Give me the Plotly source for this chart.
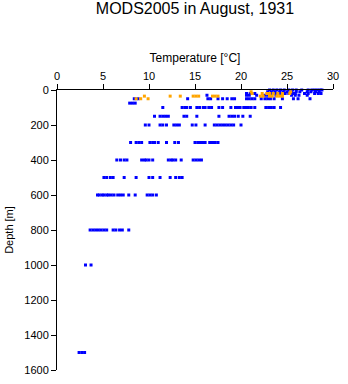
import plotly.graph_objects as go

# Temperature readings (°C) at each standard depth (m)
depths = [0, 10, 20, 30, 50, 75, 100, 150, 200, 300, 400, 500, 600, 800, 1000, 1500]
temps_good = [
    [23.1, 23.5, 23.9, 24.3, 24.7, 25.2, 25.6, 26.0, 26.6, 27.3, 27.7, 28.0, 28.3, 28.6, 28.8],
    [22.9, 23.3, 23.7, 24.2, 24.6, 25.0, 25.5, 26.0, 26.4, 27.2, 27.6, 28.1, 28.5],
    [20.6, 21.0, 21.5, 23.1, 23.4, 23.8, 24.3, 24.8, 25.2, 25.6, 25.9, 26.9, 27.3, 28.0, 28.4, 28.7],
    [16.3, 20.6, 20.9, 21.7, 22.6, 22.9, 23.8, 25.5, 25.9, 26.3, 27.2],
    [8.4, 8.8, 14.2, 16.4, 16.7, 17.5, 18.0, 18.5, 19.0, 19.3, 20.6, 20.9, 21.2, 21.5,
     22.2, 22.6, 22.9, 23.2, 23.6, 24.5, 25.7, 26.2, 27.5],
    [7.9, 8.2, 8.5],
    [11.5, 13.6, 13.9, 14.1, 14.5, 15.2, 15.5, 15.9, 16.1, 16.5, 16.8, 17.6, 18.0, 18.9,
     19.4, 19.7, 19.9, 20.3, 20.6, 20.8, 21.1, 21.5, 22.7, 23.0, 23.3, 23.6, 24.3],
    [10.6, 11.2, 11.5, 11.8, 12.1, 13.8, 14.1, 15.2, 17.6, 18.7, 19.0, 19.3, 19.7, 20.2, 21.0],
    [9.6, 10.0, 11.2, 11.5, 11.9, 12.7, 13.0, 13.3, 14.7, 15.1, 16.1, 17.1, 17.4, 17.7,
     18.0, 18.3, 18.6, 18.9, 19.2, 20.0],
    [8.0, 8.6, 8.9, 9.2, 10.1, 10.4, 10.6, 11.0, 11.9, 12.8, 13.2, 15.0, 15.3, 15.6, 15.9,
     16.1, 16.6, 16.9, 17.2, 17.5],
    [6.5, 6.9, 7.3, 7.6, 9.2, 9.5, 9.7, 10.0, 10.4, 12.1, 12.4, 12.6, 12.9, 13.5, 14.8,
     15.1, 15.4, 15.7],
    [5.1, 5.4, 5.8, 6.1, 7.3, 8.6, 10.0, 10.4, 11.2, 12.3, 12.9, 13.3, 13.6],
    [4.4, 4.6, 4.9, 5.1, 5.4, 5.6, 5.9, 6.2, 6.6, 6.9, 7.2, 7.8, 8.5, 9.8, 10.1, 10.4, 10.8],
    [3.6, 3.9, 4.2, 4.5, 4.8, 5.1, 5.4, 6.1, 6.4, 6.8, 7.1, 7.8],
    [3.1, 3.7],
    [2.4, 2.7, 3.0],
]

# Flagged readings (drawn in orange)
flag_depths = [10, 20, 35, 50]
temps_flag = [
    [21.1, 25.4],
    [21.2, 22.3, 22.8, 23.1, 23.5, 24.0, 24.5, 25.3],
    [9.5, 12.3, 13.4, 14.8, 15.1, 15.4, 16.9, 17.2, 17.5, 22.1, 22.4, 23.1, 23.4, 23.9, 24.2, 24.5],
    [8.6, 9.1, 9.9],
]

x_ticks = [0, 5, 10, 15, 20, 25, 30]
y_ticks = [0, 200, 400, 600, 800, 1000, 1200, 1400, 1600]


def flatten(levels, values):
    xs, ys = [], []
    for d, row in zip(levels, values):
        xs.extend(row)
        ys.extend([d] * len(row))
    return xs, ys


gx, gy = flatten(depths, temps_good)
fx, fy = flatten(flag_depths, temps_flag)

fig = go.Figure()
fig.add_trace(go.Scatter(x=gx, y=gy, mode="markers", cliponaxis=False,
                         marker=dict(symbol="square", size=3, color="#0000ff", line=dict(width=0))))
fig.add_trace(go.Scatter(x=fx, y=fy, mode="markers", cliponaxis=False,
                         marker=dict(symbol="square", size=3, color="#ffa500", line=dict(width=0))))

font = "Liberation Sans, Arial, Helvetica, sans-serif"
fig.update_layout(
    width=348, height=384,
    margin=dict(l=54, r=8.5, t=90, b=9),
    paper_bgcolor="white", plot_bgcolor="white",
    showlegend=False,
    font=dict(family=font, size=11, color="black"),
    title=dict(text="MODS2005 in August, 1931", x=0.5, xref="paper",
               y=1 - 2.5 / 384, yref="container", yanchor="top",
               font=dict(family=font, size=16, color="black")),
    xaxis=dict(side="top", range=[0, 30], tickvals=x_ticks, ticks="outside", ticklen=5,
               tickwidth=1, tickcolor="black", showline=True, linecolor="black", linewidth=1,
               showgrid=False, zeroline=False, tickfont=dict(size=11),
               title=dict(text="Temperature [°C]", font=dict(size=12), standoff=4)),
    yaxis=dict(range=[1600, 0], tickvals=y_ticks, ticks="outside", ticklen=5,
               tickwidth=1, tickcolor="black", showline=True, linecolor="black", linewidth=1,
               showgrid=False, zeroline=False, tickfont=dict(size=11),
               title=dict(text="Depth [m]", font=dict(size=11), standoff=8)),
)

fig.write_html("out.html")
